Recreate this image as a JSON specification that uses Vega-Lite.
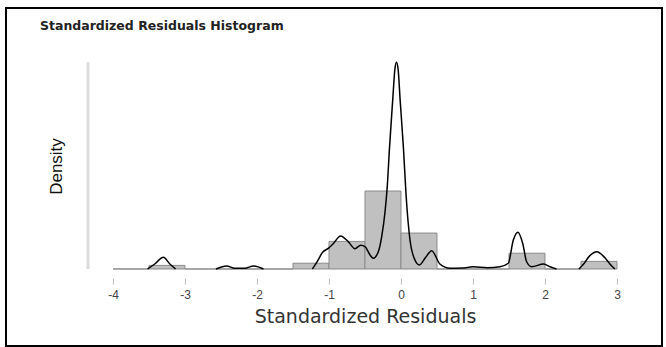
{
  "$schema": "https://vega.github.io/schema/vega-lite/v6.json",
  "autosize": "none",
  "width": 656,
  "height": 338,
  "padding": {"left": 6, "top": 8, "right": 4, "bottom": 1},
  "background": "white",
  "config": {
    "view": {"stroke": "black", "strokeWidth": 2},
    "font": "Liberation Sans"
  },
  "title": {
    "text": "Standardized Residuals Histogram",
    "anchor": "start",
    "frame": "group",
    "dx": 34,
    "offset": -24,
    "fontSize": 12.5,
    "fontWeight": "bold",
    "color": "#222",
    "font": "DejaVu Sans"
  },
  "datasets": {
    "bins": [
      {"bin_start": -4.0, "bin_end": -3.5, "density": 0},
      {"bin_start": -3.5, "bin_end": -3.0, "density": 0.041},
      {"bin_start": -3.0, "bin_end": -2.5, "density": 0},
      {"bin_start": -2.5, "bin_end": -2.0, "density": 0},
      {"bin_start": -2.0, "bin_end": -1.5, "density": 0},
      {"bin_start": -1.5, "bin_end": -1.0, "density": 0.066},
      {"bin_start": -1.0, "bin_end": -0.5, "density": 0.315},
      {"bin_start": -0.5, "bin_end": 0.0, "density": 0.89},
      {"bin_start": 0.0, "bin_end": 0.5, "density": 0.41},
      {"bin_start": 0.5, "bin_end": 1.0, "density": 0},
      {"bin_start": 1.0, "bin_end": 1.5, "density": 0},
      {"bin_start": 1.5, "bin_end": 2.0, "density": 0.18},
      {"bin_start": 2.0, "bin_end": 2.5, "density": 0},
      {"bin_start": 2.5, "bin_end": 3.0, "density": 0.087}
    ],
    "kde": [
      {"seg": "a", "x": -3.52, "y": 0.0},
      {"seg": "a", "x": -3.42, "y": 0.057},
      {"seg": "a", "x": -3.30, "y": 0.134},
      {"seg": "a", "x": -3.21, "y": 0.057},
      {"seg": "a", "x": -3.13, "y": 0.0},
      {"seg": "b", "x": -2.57, "y": 0.0},
      {"seg": "b", "x": -2.42, "y": 0.035},
      {"seg": "b", "x": -2.31, "y": 0.008},
      {"seg": "b", "x": -2.17, "y": 0.008},
      {"seg": "b", "x": -2.05, "y": 0.035},
      {"seg": "b", "x": -1.91, "y": 0.0},
      {"seg": "c", "x": -1.23, "y": 0.0},
      {"seg": "c", "x": -1.16, "y": 0.09},
      {"seg": "c", "x": -1.09, "y": 0.19},
      {"seg": "c", "x": -1.01, "y": 0.236},
      {"seg": "c", "x": -0.94, "y": 0.29},
      {"seg": "c", "x": -0.84, "y": 0.377},
      {"seg": "c", "x": -0.73, "y": 0.31},
      {"seg": "c", "x": -0.64, "y": 0.232},
      {"seg": "c", "x": -0.56, "y": 0.272},
      {"seg": "c", "x": -0.50, "y": 0.255},
      {"seg": "c", "x": -0.43, "y": 0.16},
      {"seg": "c", "x": -0.385, "y": 0.122},
      {"seg": "c", "x": -0.315, "y": 0.197},
      {"seg": "c", "x": -0.268, "y": 0.369},
      {"seg": "c", "x": -0.222, "y": 0.65},
      {"seg": "c", "x": -0.19, "y": 0.95},
      {"seg": "c", "x": -0.16, "y": 1.38},
      {"seg": "c", "x": -0.115, "y": 1.93},
      {"seg": "c", "x": -0.085, "y": 2.28},
      {"seg": "c", "x": -0.063, "y": 2.36},
      {"seg": "c", "x": -0.04, "y": 2.28},
      {"seg": "c", "x": -0.012, "y": 1.93},
      {"seg": "c", "x": 0.034, "y": 1.38},
      {"seg": "c", "x": 0.07, "y": 0.85},
      {"seg": "c", "x": 0.125, "y": 0.33},
      {"seg": "c", "x": 0.194, "y": 0.103},
      {"seg": "c", "x": 0.255, "y": 0.046},
      {"seg": "c", "x": 0.34, "y": 0.13},
      {"seg": "c", "x": 0.426, "y": 0.209},
      {"seg": "c", "x": 0.54, "y": 0.057},
      {"seg": "c", "x": 0.68, "y": 0.008},
      {"seg": "c", "x": 0.85, "y": 0.01},
      {"seg": "c", "x": 1.0, "y": 0.026},
      {"seg": "c", "x": 1.2, "y": 0.015},
      {"seg": "c", "x": 1.375, "y": 0.026},
      {"seg": "c", "x": 1.49, "y": 0.065},
      {"seg": "c", "x": 1.56, "y": 0.33},
      {"seg": "c", "x": 1.625, "y": 0.42},
      {"seg": "c", "x": 1.69, "y": 0.293},
      {"seg": "c", "x": 1.745, "y": 0.083},
      {"seg": "c", "x": 1.815, "y": 0.026},
      {"seg": "c", "x": 1.98, "y": 0.057},
      {"seg": "c", "x": 2.07, "y": 0.026},
      {"seg": "c", "x": 2.16, "y": 0.0},
      {"seg": "d", "x": 2.47, "y": 0.0},
      {"seg": "d", "x": 2.53, "y": 0.05},
      {"seg": "d", "x": 2.62, "y": 0.15},
      {"seg": "d", "x": 2.72, "y": 0.197},
      {"seg": "d", "x": 2.83, "y": 0.13},
      {"seg": "d", "x": 2.92, "y": 0.04},
      {"seg": "d", "x": 2.97, "y": 0.0}
    ],
    "yline": [{"x": -4.347, "y0": 0, "y1": 2.36}]
  },
  "layer": [
    {
      "data": {"name": "yline"},
      "mark": {"type": "rule", "color": "#dcdcdc", "strokeWidth": 3},
      "encoding": {
        "x": {"field": "x", "type": "quantitative", "scale": {"domain": [-5.486, 3.625], "nice": false, "zero": false},
          "axis": {"values": [-4, -3, -2, -1, 0, 1, 2, 3], "labelExpr": "'' + datum.value", "offset": -68, "domain": false, "grid": false,
            "tickColor": "#bbbbbb", "tickSize": 6, "tickWidth": 1, "labelFontSize": 12, "labelColor": "#444",
            "labelPadding": 5, "labelFont": "Liberation Sans",
            "title": "Standardized Residuals", "titleFontSize": 19, "titleFontWeight": "normal", "titleColor": "#333",
            "titleFont": "DejaVu Sans", "titleX": 359, "titleY": 38, "titleBaseline": "middle", "titleAlign": "center"}},
        "y": {"field": "y0", "type": "quantitative", "scale": {"domain": [-0.879, 2.979], "nice": false, "zero": false},
          "axis": {"domain": false, "ticks": false, "labels": false, "grid": false,
            "title": "Density", "titleFontSize": 17, "titleFontWeight": "normal", "titleColor": "#111",
            "titleFont": "Liberation Sans", "titleX": 50, "titleY": 158, "titleAlign": "center", "titleBaseline": "middle"}},
        "y2": {"field": "y1"}
      }
    },
    {
      "data": {"name": "bins"},
      "mark": {"type": "rect", "fill": "#c0c0c0", "stroke": "#8a8a8a", "strokeWidth": 1},
      "encoding": {
        "x": {"field": "bin_start", "type": "quantitative"},
        "x2": {"field": "bin_end"},
        "y": {"field": "density", "type": "quantitative"},
        "y2": {"datum": 0}
      }
    },
    {
      "data": {"name": "kde"},
      "mark": {"type": "line", "color": "black", "strokeWidth": 1.5, "interpolate": "monotone"},
      "encoding": {
        "x": {"field": "x", "type": "quantitative"},
        "y": {"field": "y", "type": "quantitative"},
        "detail": {"field": "seg"},
        "order": {"field": "x"}
      }
    }
  ]
}
